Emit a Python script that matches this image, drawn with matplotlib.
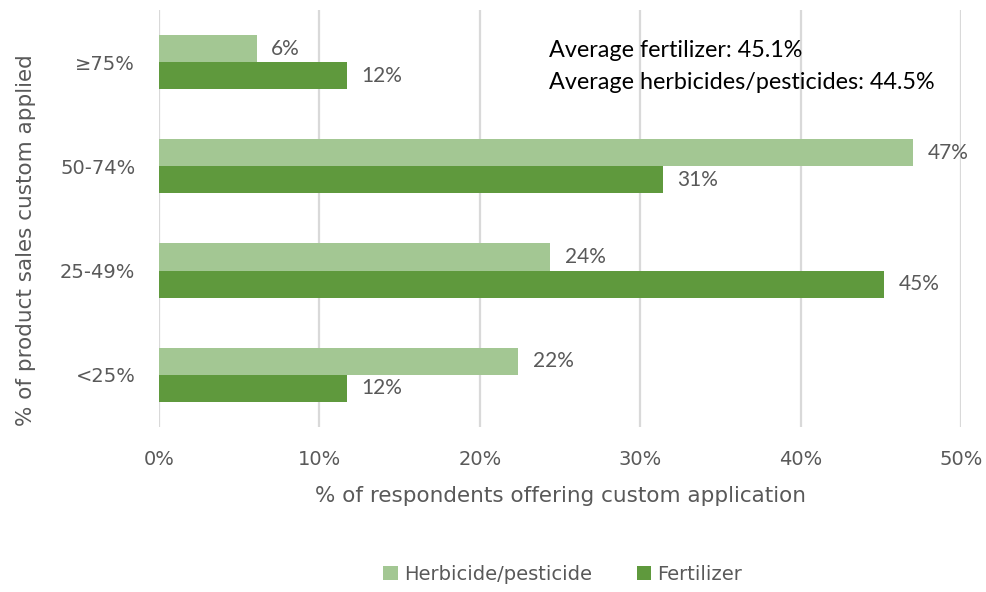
import matplotlib.pyplot as plt
import numpy as np

kategorie = ["<25%", "25-49%", "50-74%", "≥75%"]
herbicyd = [22.4, 24.4, 47.0, 6.1]   # Herbicide/pesticide
nawoz = [11.7, 45.2, 31.4, 11.7]     # Fertilizer
xticki = [0, 10, 20, 30, 40, 50]

jasny = "#A3C793"
ciemny = "#5F993D"
szary = "#595959"

fig = plt.figure(figsize=(9.87, 5.92), dpi=100)
ax = fig.add_axes([0.161, 0.279, 0.813, 0.704])

y = np.arange(len(kategorie))
h = 0.26
ax.barh(y + h / 2, herbicyd, height=h, color=jasny, label="Herbicide/pesticide", zorder=3)
ax.barh(y - h / 2, nawoz, height=h, color=ciemny, label="Fertilizer", zorder=3)

# etykiety danych
for i in range(len(kategorie)):
    ax.text(herbicyd[i] + 0.9, y[i] + h / 2, "%d%%" % round(herbicyd[i]), va="center", ha="left",
            fontsize=15, color=szary, family="Lato")
    ax.text(nawoz[i] + 0.9, y[i] - h / 2, "%d%%" % round(nawoz[i]), va="center", ha="left",
            fontsize=15, color=szary, family="Lato")

ax.set_xlim(0, 50)
ax.set_ylim(-0.5, 3.5)
ax.set_xticks(xticki)
ax.set_xticklabels(["%d%%" % t for t in xticki], fontsize=14, color=szary, family="DejaVu Sans")
ax.set_yticks(y)
ax.set_yticklabels(kategorie, fontsize=14, color=szary, family="DejaVu Sans")
ax.tick_params(length=0)
ax.tick_params(axis="x", pad=17)
ax.tick_params(axis="y", pad=17)
ax.grid(axis="x", color="#D9D9D9", linewidth=1.6, zorder=0)
for s in ax.spines.values():
    s.set_visible(False)

ax.set_xlabel("% of respondents offering custom application", fontsize=15.5, color=szary,
              family="DejaVu Sans", labelpad=12)
ax.set_ylabel("% of product sales custom applied", fontsize=15.5, color=szary,
              family="DejaVu Sans", labelpad=17)
ax.yaxis.label.set_y(0.448)  # etykieta osi y troche nizej niz srodek

ax.text(24.3, 2.96, "Average fertilizer: 45.1%\nAverage herbicides/pesticides: 44.5%",
        fontsize=16.8, color="black", family="Lato", va="center", ha="left", linespacing=1.65)

fig.legend(loc="center", bbox_to_anchor=(0.57, 0.03), ncol=2, frameon=False,
           handlelength=0.75, handleheight=0.75, columnspacing=2.3, handletextpad=0.3,
           prop={"family": "DejaVu Sans", "size": 14}, labelcolor=szary)

fig.savefig("out.png", dpi=100)
